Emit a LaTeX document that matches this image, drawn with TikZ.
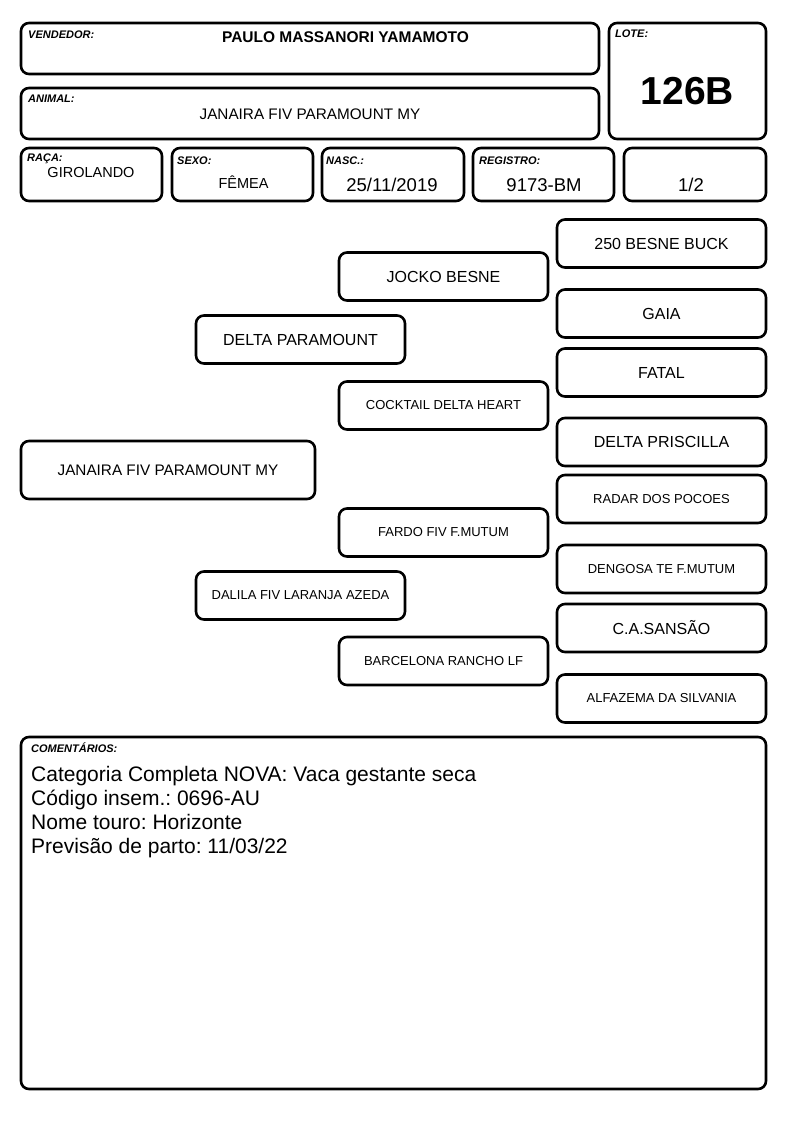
\documentclass[tikz,border=0pt]{standalone}
\usepackage{fontspec}
\setmainfont{Liberation Sans}
\frenchspacing
\newcommand{\myfs}[1]{\fontsize{#1}{#1}\selectfont}
\begin{document}
\begin{tikzpicture}[x=1pt,y=-1pt,
  box/.style={draw=black,line width=2.6pt,rounded corners=8pt,rectangle,inner sep=0pt,fill=white},
  rbox/.style={box,minimum width=209pt,minimum height=48pt,text=black},
  fld/.style={font=\myfs{11}\bfseries\itshape,anchor=base west,inner sep=0pt}]
\useasboundingbox[fill=white] (0,0) rectangle (794,1123);

% header boxes
\node[box,minimum width=578pt,minimum height=51pt] (vend) at (310,48.5) {};
\node[box,minimum width=157pt,minimum height=116pt] (lote) at (687.5,81) {};
\node[box,minimum width=578pt,minimum height=51pt] (animal) at (310,113.5) {};
\node[box,minimum width=141pt,minimum height=53pt] (raca) at (91.5,174.5) {};
\node[box,minimum width=141pt,minimum height=53pt] (sexo) at (242.5,174.5) {};
\node[box,minimum width=142pt,minimum height=53pt] (nasc) at (393,174.5) {};
\node[box,minimum width=141pt,minimum height=53pt] (reg) at (543.5,174.5) {};
\node[box,minimum width=142pt,minimum height=53pt] (frac) at (695,174.5) {};

% field labels
\node[fld] (lvend) at (28,38.5) {VENDEDOR:};
\node[fld] (llote) at (615,38) {LOTE:};
\node[fld] (lanimal) at (28,103) {ANIMAL:};
\node[fld] (lraca) at (27,161.5) {RAÇA:};
\node[fld] (lsexo) at (177,164.5) {SEXO:};
\node[fld] (lnasc) at (326,164.5) {NASC.:};
\node[fld] (lreg) at (479,164.5) {REGISTRO:};

% field values
\node[anchor=base,inner sep=0pt,font=\myfs{15.5}\bfseries] (tvend) at (345.5,43) {PAULO MASSANORI YAMAMOTO};
\node[anchor=base,inner sep=0pt,font=\myfs{39}\bfseries] (tlote) at (687.5,105) {126B};
\node[anchor=base,inner sep=0pt,font=\myfs{15.3}] (tanimal) at (310,119.5) {JANAIRA FIV PARAMOUNT MY};
\node[anchor=base,inner sep=0pt,font=\myfs{14.5}] (traca) at (91,178) {GIROLANDO};
\node[anchor=base,inner sep=0pt,font=\myfs{14.5}] (tsexo) at (243.5,189) {FÊMEA};
\node[anchor=base,inner sep=0pt,font=\myfs{18.5}] (tnasc) at (392,192) {25/11/2019};
\node[anchor=base,inner sep=0pt,font=\myfs{18.5}] (treg) at (544,192) {9173-BM};
\node[anchor=base,inner sep=0pt,font=\myfs{18.5}] (tfrac) at (691,192) {1/2};

% pedigree
\node[box,minimum width=294pt,minimum height=58pt,font=\myfs{15.3}] (p0) at (168,470) {JANAIRA FIV PARAMOUNT MY};

\node[rbox,font=\myfs{16}] (p1) at (300.5,339.5) {DELTA PARAMOUNT};
\node[rbox,font=\myfs{13}] (p2) at (300.5,595.5) {DALILA FIV LARANJA AZEDA};

\node[rbox,font=\myfs{16}] (p3) at (443.5,276.5) {JOCKO BESNE};
\node[rbox,font=\myfs{13}] (p4) at (443.5,405.5) {COCKTAIL DELTA HEART};
\node[rbox,font=\myfs{13}] (p5) at (443.5,532.5) {FARDO FIV F.MUTUM};
\node[rbox,font=\myfs{13}] (p6) at (443.5,661) {BARCELONA RANCHO LF};

\node[rbox,font=\myfs{16}] (p7) at (661.5,243.5) {250 BESNE BUCK};
\node[rbox,font=\myfs{16}] (p8) at (661.5,313.5) {GAIA};
\node[rbox,font=\myfs{16}] (p9) at (661.5,372.5) {FATAL};
\node[rbox,font=\myfs{16}] (p10) at (661.5,442) {DELTA PRISCILLA};
\node[rbox,font=\myfs{13}] (p11) at (661.5,499) {RADAR DOS POCOES};
\node[rbox,font=\myfs{13}] (p12) at (661.5,569) {DENGOSA TE F.MUTUM};
\node[rbox,font=\myfs{16}] (p13) at (661.5,628) {C.A.SANSÃO};
\node[rbox,font=\myfs{13}] (p14) at (661.5,698.5) {ALFAZEMA DA SILVANIA};

% comments
\node[box,minimum width=745pt,minimum height=352pt] (com) at (393.5,913) {};
\node[fld] (lcom) at (31,752.5) {COMENTÁRIOS:};
\node[anchor=base west,inner sep=0pt,font=\myfs{21}] (c1) at (31,781) {Categoria Completa NOVA: Vaca gestante seca};
\node[anchor=base west,inner sep=0pt,font=\myfs{21}] (c2) at (31,805) {Código insem.: 0696-AU};
\node[anchor=base west,inner sep=0pt,font=\myfs{21}] (c3) at (31,829) {Nome touro: Horizonte};
\node[anchor=base west,inner sep=0pt,font=\myfs{21}] (c4) at (31,853) {Previsão de parto: 11/03/22};
\end{tikzpicture}
\end{document}
